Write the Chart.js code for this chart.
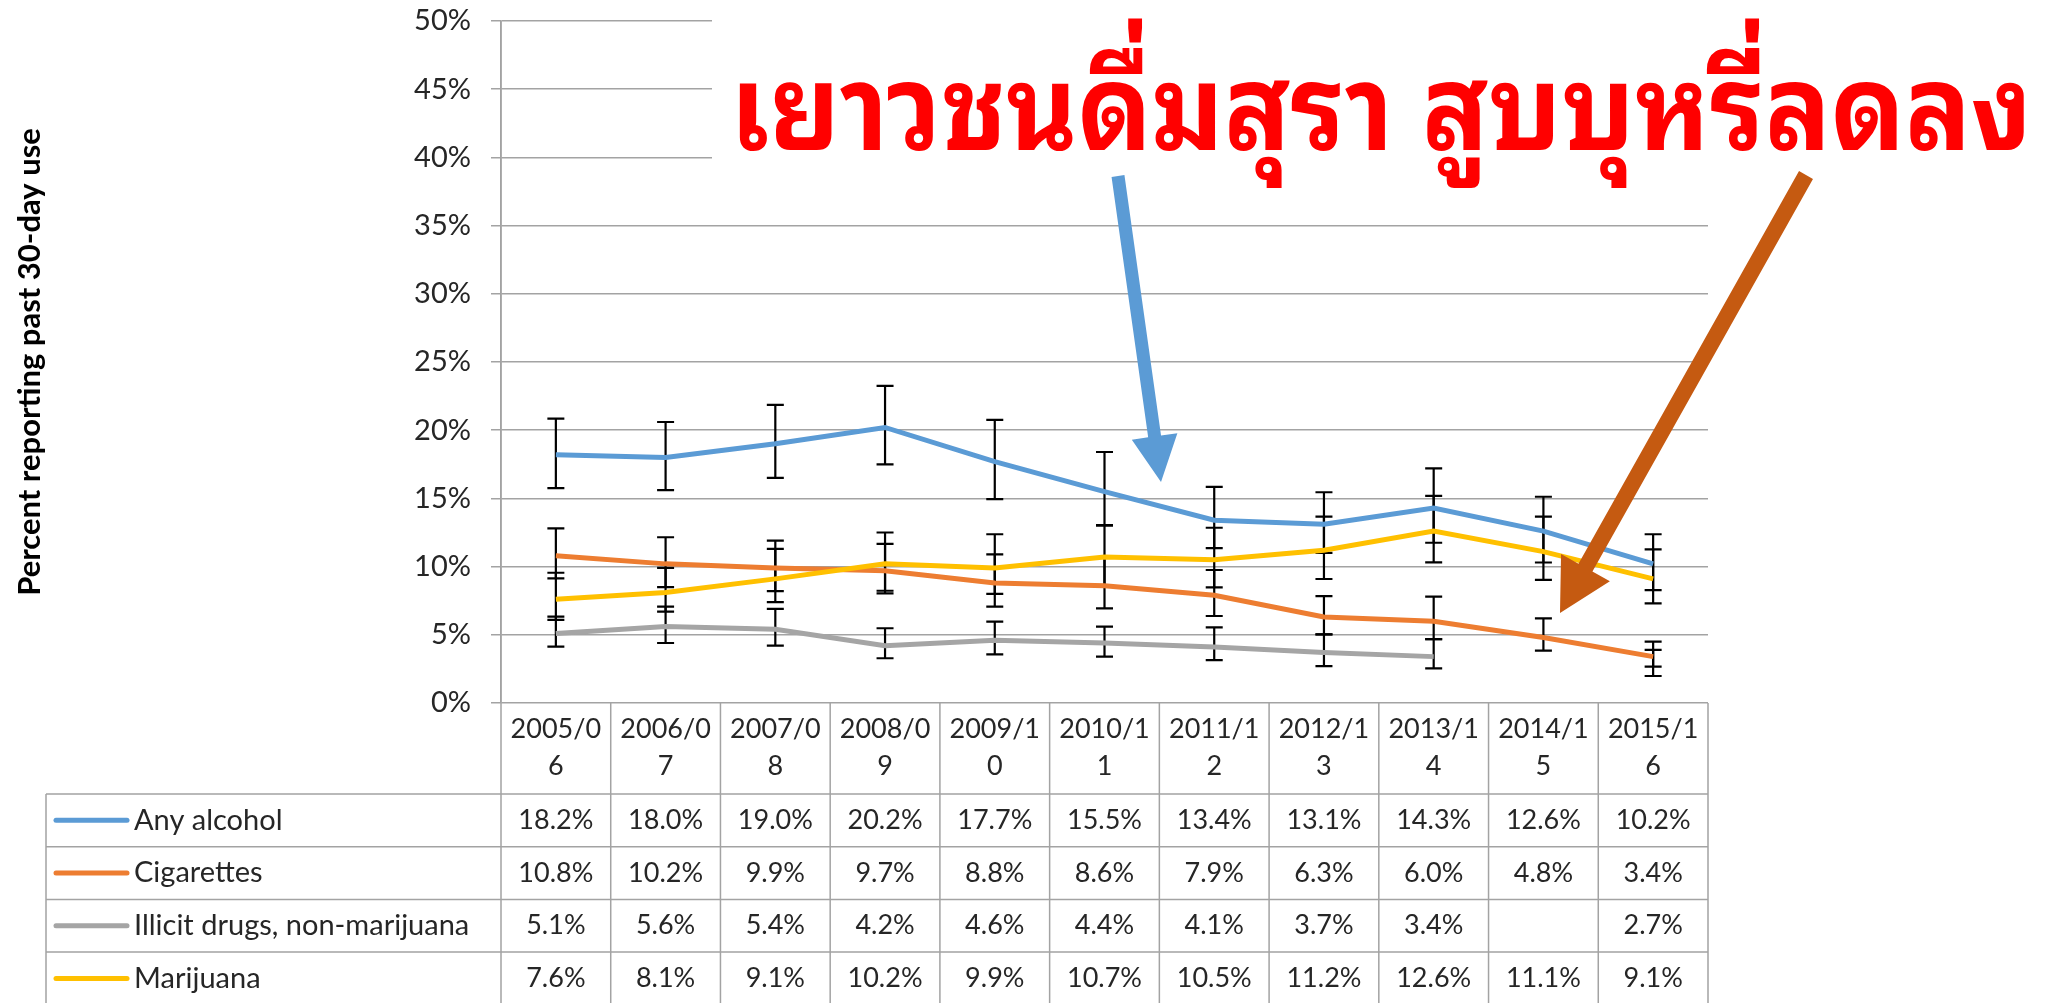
<!DOCTYPE html>
<html>
<head>
<meta charset="utf-8">
<script src="https://cdn.jsdelivr.net/npm/chart.js@4.4.1/dist/chart.umd.min.js"></script>
<style>
  html, body { margin: 0; padding: 0; background: #fff; }
  #wrap { width: 2061px; height: 1003px; position: relative; }
</style>
</head>
<body>
<div id="wrap"><canvas id="chart"></canvas></div>
<script>
// =========================
// DATA
// =========================
const years = ['2005/06','2006/07','2007/08','2008/09','2009/10','2010/11','2011/12','2012/13','2013/14','2014/15','2015/16'];

const seriesNames = ['Any alcohol', 'Cigarettes', 'Illicit drugs, non-marijuana', 'Marijuana'];

const alcohol    = [18.2, 18.0, 19.0, 20.2, 17.7, 15.5, 13.4, 13.1, 14.3, 12.6, 10.2];
const cigarettes = [10.8, 10.2, 9.9, 9.7, 8.8, 8.6, 7.9, 6.3, 6.0, 4.8, 3.4];
const illicit    = [5.1, 5.6, 5.4, 4.2, 4.6, 4.4, 4.1, 3.7, 3.4, null, 2.7];
const marijuana  = [7.6, 8.1, 9.1, 10.2, 9.9, 10.7, 10.5, 11.2, 12.6, 11.1, 9.1];

// confidence intervals
const alcoholLow     = [15.75, 15.6, 16.5, 17.5, 14.95, 13.05, 11.35, 11.0, 11.75, 10.3, 8.28];
const alcoholHigh    = [20.85, 20.6, 21.85, 23.25, 20.75, 18.4, 15.85, 15.45, 17.2, 15.12, 12.37];
const cigarettesLow  = [9.14, 8.5, 8.2, 8.04, 7.06, 6.94, 6.38, 5.03, 4.69, 3.84, 2.66];
const cigarettesHigh = [12.8, 12.15, 11.9, 11.66, 10.9, 10.7, 9.75, 7.84, 7.8, 6.2, 4.5];
const illicitLow     = [4.13, 4.4, 4.2, 3.28, 3.57, 3.4, 3.15, 2.71, 2.54, null, 1.98];
const illicitHigh    = [6.33, 7.06, 6.9, 5.48, 5.96, 5.6, 5.55, 5.03, 4.69, null, 3.89];
const marijuanaLow   = [6.09, 6.7, 7.4, 8.23, 8.0, 8.6, 8.48, 9.09, 10.31, 9.02, 7.31];
const marijuanaHigh  = [9.55, 9.9, 11.3, 12.5, 12.37, 13.0, 12.85, 13.66, 15.18, 13.66, 11.27];

const yTicksMax = 50;
const yTicksStep = 5;

const headline = 'เยาวชนดื่มสุรา สูบบุหรี่ลดลง';

// =========================
// STYLE
// =========================
const colors = ['#5B9BD5', '#ED7D31', '#A5A5A5', '#FFC000'];
const gridColor = '#a3a3a3';
const textColor = '#262626';
const baseFont = 'Lato, "Open Sans", sans-serif';

const allValues = [alcohol, cigarettes, illicit, marijuana];
const allLow = [alcoholLow, cigarettesLow, illicitLow, marijuanaLow];
const allHigh = [alcoholHigh, cigarettesHigh, illicitHigh, marijuanaHigh];

// =========================
// Extras: error bars, data table, headline, arrows
// =========================
const extras = {
  id: 'extras',
  beforeDraw(chart) {
    const ctx = chart.ctx;
    ctx.save();
    ctx.fillStyle = '#fff';
    ctx.fillRect(0, 0, chart.width, chart.height);
    ctx.restore();
  },
  beforeDatasetsDraw(chart) {
    const { ctx, scales: { x, y } } = chart;
    ctx.save();
    ctx.strokeStyle = '#000';
    ctx.lineWidth = 2.2;
    allLow.forEach((low, s) => {
      const high = allHigh[s];
      low.forEach((lo, i) => {
        if (lo == null || high[i] == null) return;
        const px = x.getPixelForValue(i);
        const y1 = y.getPixelForValue(lo);
        const y2 = y.getPixelForValue(high[i]);
        ctx.beginPath();
        ctx.moveTo(px, y1); ctx.lineTo(px, y2);
        ctx.moveTo(px - 8.5, y1); ctx.lineTo(px + 8.5, y1);
        ctx.moveTo(px - 8.5, y2); ctx.lineTo(px + 8.5, y2);
        ctx.stroke();
      });
    });
    ctx.restore();
  },
  afterDraw(chart) {
    const { ctx, chartArea: ca, scales: { x } } = chart;
    const colW = (ca.right - ca.left) / years.length;
    const headBottom = ca.bottom + 91;
    const rowH = 52.7;
    const tableLeft = 46;
    const tableBottom = chart.height;

    ctx.save();
    // table lines
    ctx.strokeStyle = gridColor;
    ctx.lineWidth = 1.5;
    ctx.beginPath();
    ctx.moveTo(ca.left, ca.top); ctx.lineTo(ca.left, tableBottom);
    ctx.moveTo(ca.right, ca.bottom); ctx.lineTo(ca.right, tableBottom);
    for (let k = 1; k < years.length; k++) {
      const gx = ca.left + k * colW;
      ctx.moveTo(gx, ca.bottom); ctx.lineTo(gx, tableBottom);
    }
    ctx.moveTo(tableLeft, headBottom); ctx.lineTo(tableLeft, tableBottom);
    for (let r = 0; r < seriesNames.length; r++) {
      const ly = headBottom + r * rowH;
      ctx.moveTo(tableLeft, ly); ctx.lineTo(ca.right, ly);
    }
    ctx.stroke();

    // header labels (wrapped like the original)
    ctx.fillStyle = textColor;
    ctx.font = '27px ' + baseFont;
    ctx.textAlign = 'center';
    ctx.textBaseline = 'middle';
    years.forEach((yr, i) => {
      const cx = x.getPixelForValue(i);
      ctx.fillText(yr.slice(0, 6), cx, ca.bottom + 26);
      ctx.fillText(yr.slice(6), cx, ca.bottom + 63);
    });

    // rows
    seriesNames.forEach((name, r) => {
      const cy = headBottom + r * rowH + rowH / 2;
      ctx.strokeStyle = colors[r];
      ctx.lineWidth = 5;
      ctx.lineCap = 'round';
      ctx.beginPath();
      ctx.moveTo(56, cy); ctx.lineTo(127, cy);
      ctx.stroke();
      ctx.textAlign = 'left';
      ctx.fillStyle = textColor;
      ctx.font = '29px ' + baseFont;
      ctx.fillText(name, 134, cy);
      ctx.font = '27px ' + baseFont;
      ctx.textAlign = 'center';
      allValues[r].forEach((v, i) => {
        if (v == null) return;
        ctx.fillText(v.toFixed(1) + '%', x.getPixelForValue(i), cy);
      });
    });

    // headline with white box behind it
    ctx.fillStyle = '#fff';
    ctx.fillRect(712, 0, chart.width - 712, 172);
    ctx.fillStyle = '#FF0000';
    ctx.font = 'bold 118px "Noto Sans Thai Looped", Loma, Garuda, "Noto Sans Thai", "Noto Sans", sans-serif';
    ctx.textAlign = 'left';
    ctx.textBaseline = 'alphabetic';
    ctx.fillText(headline, 730, 150, 1302);

    // arrows
    drawArrow(ctx, 1118, 176, 1161, 482, 13, 46, 46, '#5B9BD5');
    drawArrow(ctx, 1806, 175, 1560, 613, 16, 52, 56, '#C55A11');
    ctx.restore();
  }
};

function drawArrow(ctx, x1, y1, x2, y2, shaftW, headL, headW, color) {
  const dx = x2 - x1, dy = y2 - y1;
  const len = Math.hypot(dx, dy);
  const ux = dx / len, uy = dy / len;
  const nx = -uy, ny = ux;
  const bx = x2 - ux * headL, by = y2 - uy * headL;
  ctx.fillStyle = color;
  ctx.beginPath();
  ctx.moveTo(x1 + nx * shaftW / 2, y1 + ny * shaftW / 2);
  ctx.lineTo(bx + nx * shaftW / 2, by + ny * shaftW / 2);
  ctx.lineTo(bx + nx * headW / 2, by + ny * headW / 2);
  ctx.lineTo(x2, y2);
  ctx.lineTo(bx - nx * headW / 2, by - ny * headW / 2);
  ctx.lineTo(bx - nx * shaftW / 2, by - ny * shaftW / 2);
  ctx.lineTo(x1 - nx * shaftW / 2, y1 - ny * shaftW / 2);
  ctx.closePath();
  ctx.fill();
}

// =========================
// Chart
// =========================
new Chart(document.getElementById('chart'), {
  type: 'line',
  data: {
    labels: years,
    datasets: seriesNames.map((name, s) => ({
      label: name,
      data: allValues[s],
      borderColor: colors[s],
      backgroundColor: colors[s],
      borderWidth: 5,
      pointRadius: 0,
      tension: 0,
      spanGaps: false,
      order: 3 - s
    }))
  },
  options: {
    responsive: true,
    maintainAspectRatio: false,
    animation: false,
    layout: { padding: { left: 0, right: 353, top: 21, bottom: 300 } },
    plugins: { legend: { display: false }, tooltip: { enabled: false } },
    scales: {
      x: { display: false, offset: true },
      y: {
        min: 0,
        max: yTicksMax,
        ticks: {
          stepSize: yTicksStep,
          callback: v => v + '%',
          color: textColor,
          font: { family: baseFont, size: 29 },
          padding: 20
        },
        grid: { color: gridColor, lineWidth: 1.5, tickLength: 10 },
        border: { color: gridColor, width: 1.5 },
        title: {
          display: true,
          text: 'Percent reporting past 30-day use',
          color: '#000',
          font: { family: baseFont, size: 31, weight: 'bold' },
          padding: { top: 11, bottom: 0 }
        },
        afterFit: s => {
          s.width = 501;
          s.paddingTop = 0;
          s.paddingBottom = 0;
        }
      }
    }
  },
  plugins: [extras]
});
</script>
</body>
</html>
